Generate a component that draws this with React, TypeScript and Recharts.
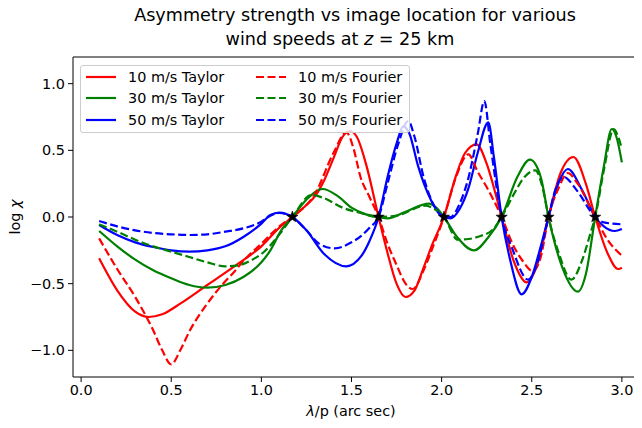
import React from "react";
import { ComposedChart, Line, Scatter, XAxis, YAxis, ReferenceLine } from "recharts";

// [lambda/p, log chi]
const taylor10: [number, number][] = [
  [0.1, -0.31], [0.2, -0.55], [0.3, -0.71], [0.375, -0.75], [0.45, -0.73], [0.55, -0.65],
  [0.7, -0.51], [0.85, -0.37], [1.0, -0.22], [1.1, -0.08], [1.172, 0], [1.25, 0.09],
  [1.3, 0.16], [1.35, 0.28], [1.4, 0.44], [1.45, 0.6], [1.49, 0.645], [1.53, 0.6],
  [1.58, 0.4], [1.65, 0], [1.7, -0.27], [1.75, -0.5], [1.8, -0.6], [1.85, -0.55],
  [1.9, -0.38], [1.95, -0.2], [2.013, 0], [2.08, 0.31], [2.13, 0.48], [2.194, 0.545],
  [2.25, 0.4], [2.3, 0.17], [2.333, 0], [2.4, -0.33], [2.472, -0.49], [2.53, -0.36],
  [2.593, 0], [2.66, 0.33], [2.731, 0.45], [2.8, 0.25], [2.852, 0], [2.92, -0.27],
  [2.98, -0.39], [3.0, -0.38],
];

const fourier10: [number, number][] = [
  [0.1, -0.16], [0.2, -0.39], [0.3, -0.6], [0.4, -0.85], [0.45, -1.0], [0.5, -1.105],
  [0.55, -1.0], [0.6, -0.86], [0.7, -0.65], [0.775, -0.52], [0.85, -0.41], [0.9, -0.33],
  [1.0, -0.2], [1.1, -0.07], [1.172, 0], [1.3, 0.18], [1.4, 0.48], [1.472, 0.635],
  [1.51, 0.52], [1.55, 0.3], [1.6, 0.15], [1.65, 0], [1.7, -0.2], [1.75, -0.36],
  [1.8, -0.5], [1.84, -0.54], [1.9, -0.4], [1.95, -0.23], [2.013, 0], [2.08, 0.3],
  [2.148, 0.47], [2.2, 0.34], [2.26, 0.2], [2.333, 0], [2.4, -0.22], [2.45, -0.33],
  [2.505, -0.405], [2.55, -0.3], [2.593, 0], [2.65, 0.22], [2.7, 0.33], [2.75, 0.26],
  [2.852, 0], [2.92, -0.17], [3.0, -0.29],
];

const taylor30: [number, number][] = [
  [0.1, -0.105], [0.2, -0.22], [0.3, -0.32], [0.4, -0.4], [0.5, -0.46], [0.6, -0.51],
  [0.7, -0.53], [0.8, -0.51], [0.9, -0.45], [1.0, -0.34], [1.05, -0.25], [1.11, -0.1],
  [1.172, 0], [1.25, 0.13], [1.34, 0.21], [1.42, 0.16], [1.5, 0.07], [1.58, 0.02],
  [1.65, 0], [1.7, -0.01], [1.8, 0.04], [1.93, 0.1], [1.97, 0.07], [2.013, 0],
  [2.08, -0.14], [2.18, -0.25], [2.26, -0.15], [2.333, 0], [2.42, 0.3], [2.49, 0.43],
  [2.55, 0.3], [2.593, 0], [2.67, -0.38], [2.756, -0.56], [2.8, -0.43], [2.852, 0],
  [2.9, 0.38], [2.944, 0.66], [2.97, 0.6], [3.0, 0.41],
];

const fourier30: [number, number][] = [
  [0.1, -0.055], [0.2, -0.11], [0.3, -0.17], [0.4, -0.22], [0.5, -0.26], [0.6, -0.3],
  [0.7, -0.34], [0.8, -0.37], [0.88, -0.36], [0.95, -0.32], [1.02, -0.255], [1.1, -0.13],
  [1.172, 0], [1.278, 0.165], [1.35, 0.14], [1.45, 0.07], [1.55, 0.03], [1.65, 0],
  [1.75, 0.01], [1.91, 0.085], [1.96, 0.06], [2.013, 0], [2.09, -0.17], [2.15, -0.165],
  [2.22, -0.14], [2.28, -0.1], [2.333, 0], [2.4, 0.17], [2.46, 0.3], [2.52, 0.35],
  [2.56, 0.22], [2.593, 0], [2.65, -0.27], [2.72, -0.47], [2.778, -0.33], [2.824, -0.13],
  [2.852, 0], [2.9, 0.35], [2.955, 0.66], [2.98, 0.6], [3.0, 0.51],
];

const taylor50: [number, number][] = [
  [0.1, -0.06], [0.2, -0.135], [0.3, -0.19], [0.4, -0.225], [0.5, -0.25], [0.6, -0.26],
  [0.7, -0.25], [0.8, -0.22], [0.9, -0.15], [1.0, -0.05], [1.05, 0.015], [1.1, 0.033],
  [1.172, 0], [1.25, -0.1], [1.35, -0.28], [1.47, -0.37], [1.556, -0.29], [1.6, -0.18],
  [1.65, 0], [1.7, 0.3], [1.75, 0.55], [1.787, 0.68], [1.82, 0.63], [1.87, 0.38],
  [1.94, 0.13], [1.98, 0.04], [2.013, 0], [2.05, -0.01], [2.1, 0.06], [2.15, 0.22],
  [2.2, 0.48], [2.259, 0.71], [2.29, 0.45], [2.333, 0], [2.38, -0.32], [2.444, -0.58],
  [2.5, -0.45], [2.55, -0.22], [2.593, 0], [2.65, 0.26], [2.7, 0.36], [2.78, 0.2],
  [2.852, 0], [2.9, -0.07], [2.96, -0.105], [3.0, -0.09],
];

const fourier50: [number, number][] = [
  [0.1, -0.03], [0.2, -0.07], [0.3, -0.1], [0.4, -0.12], [0.5, -0.13], [0.6, -0.135],
  [0.7, -0.13], [0.8, -0.11], [0.9, -0.085], [1.0, -0.035], [1.05, 0.01], [1.1, 0.03],
  [1.172, 0], [1.25, -0.1], [1.32, -0.2], [1.407, -0.235], [1.5, -0.19], [1.556, -0.14],
  [1.6, -0.08], [1.65, 0], [1.7, 0.25], [1.76, 0.55], [1.815, 0.72], [1.85, 0.6],
  [1.9, 0.3], [1.96, 0.08], [2.013, 0], [2.05, 0.0], [2.1, 0.1], [2.15, 0.3],
  [2.2, 0.62], [2.237, 0.87], [2.27, 0.55], [2.333, 0], [2.39, -0.23], [2.48, -0.47],
  [2.53, -0.35], [2.593, 0], [2.63, 0.2], [2.676, 0.3], [2.75, 0.2], [2.852, 0],
  [2.9, -0.04], [3.0, -0.055],
];

const starX = [1.172, 1.65, 2.013, 2.333, 2.593, 2.852];

const xTicks = [0, 0.5, 1.0, 1.5, 2.0, 2.5, 3.0];
const yTicks = [-1.0, -0.5, 0, 0.5, 1.0];

const toPts = (arr: [number, number][]) => arr.map(([x, y]) => ({ x, y }));
const starPts = starX.map((x) => ({ x, y: 0 }));

const FONT = "'DejaVu Sans', sans-serif";
const RED = "#ff0000";
const GREEN = "#008000";
const BLUE = "#0000ff";
const DASH = "8 3.5";

const fmt = (v: number) => (v < 0 ? "\u2212" : "") + Math.abs(v).toFixed(1);

const StarShape = (props: any) => {
  const { cx, cy } = props;
  const pts: string[] = [];
  for (let i = 0; i < 10; i++) {
    const r = i % 2 === 0 ? 6 : 2.5;
    const a = -Math.PI / 2 + (i * Math.PI) / 5;
    pts.push(`${cx + r * Math.cos(a)},${cy + r * Math.sin(a)}`);
  }
  return <polygon points={pts.join(" ")} fill="#000" stroke="#000" strokeWidth={0.5} />;
};

const legendRows = [
  { label: "10 m/s Taylor", color: RED, dash: undefined },
  { label: "30 m/s Taylor", color: GREEN, dash: undefined },
  { label: "50 m/s Taylor", color: BLUE, dash: undefined },
  { label: "10 m/s Fourier", color: RED, dash: DASH },
  { label: "30 m/s Fourier", color: GREEN, dash: DASH },
  { label: "50 m/s Fourier", color: BLUE, dash: DASH },
];

export default function App() {
  const tickStyle = { fontSize: 14.4, fill: "#000", fontFamily: FONT };
  return (
    <div style={{ position: "relative", width: 642, height: 428, overflow: "hidden", margin: -8, background: "#fff", fontFamily: FONT }}>
      <ComposedChart width={660} height={428} margin={{ top: 57, right: 12, bottom: 0, left: 0 }}>
        <XAxis
          type="number"
          dataKey="x"
          domain={[-0.045, 3.145]}
          ticks={xTicks}
          tickFormatter={fmt}
          tick={tickStyle}
          tickSize={5}
          tickMargin={3}
          height={51}
          stroke="#000"
          allowDataOverflow
        />
        <YAxis
          type="number"
          dataKey="y"
          domain={[-1.2, 1.2]}
          ticks={yTicks}
          tickFormatter={fmt}
          tick={tickStyle}
          tickSize={5}
          tickMargin={3}
          width={73}
          stroke="#000"
          allowDataOverflow
        />
        <ReferenceLine y={1.2} stroke="#000" strokeWidth={1} />
        <Line data={toPts(taylor10)} dataKey="y" type="monotone" stroke={RED} strokeWidth={2.2} dot={false} isAnimationActive={false} />
        <Line data={toPts(taylor30)} dataKey="y" type="monotone" stroke={GREEN} strokeWidth={2.2} dot={false} isAnimationActive={false} />
        <Line data={toPts(taylor50)} dataKey="y" type="monotone" stroke={BLUE} strokeWidth={2.2} dot={false} isAnimationActive={false} />
        <Line data={toPts(fourier10)} dataKey="y" type="monotone" stroke={RED} strokeWidth={2.2} strokeDasharray={DASH} dot={false} isAnimationActive={false} />
        <Line data={toPts(fourier30)} dataKey="y" type="monotone" stroke={GREEN} strokeWidth={2.2} strokeDasharray={DASH} dot={false} isAnimationActive={false} />
        <Line data={toPts(fourier50)} dataKey="y" type="monotone" stroke={BLUE} strokeWidth={2.2} strokeDasharray={DASH} dot={false} isAnimationActive={false} />
        <Scatter data={starPts} dataKey="y" shape={<StarShape />} isAnimationActive={false} />
      </ComposedChart>

      <div style={{ position: "absolute", left: 0, width: 710, top: 3, textAlign: "center", fontSize: 17.6, lineHeight: "24px", color: "#000", whiteSpace: "nowrap" }}>
        Asymmetry strength vs image location for various
      </div>
      <div style={{ position: "absolute", left: 0, width: 680, top: 27, textAlign: "center", fontSize: 17.6, lineHeight: "24px", color: "#000", whiteSpace: "nowrap" }}>
        wind speeds at <i>z</i> = 25 km
      </div>

      <div style={{ position: "absolute", left: 0, width: 702, top: 403, textAlign: "center", fontSize: 14.4, color: "#000" }}>
        <i>λ</i>/p (arc sec)
      </div>

      <div style={{ position: "absolute", left: 15, top: 217, width: 0, height: 0 }}>
        <div style={{ position: "absolute", transform: "translate(-50%, -50%) rotate(-90deg)", whiteSpace: "nowrap", fontSize: 14.4, color: "#000" }}>
          log <i>χ</i>
        </div>
      </div>

      <div style={{ position: "absolute", left: 80, top: 65, width: 330, height: 68, border: "1px solid #ccc", borderRadius: 3, background: "rgba(255,255,255,0.8)", boxSizing: "border-box", fontSize: 14.4 }}>
        {legendRows.map((r, i) => {
          const col = Math.floor(i / 3);
          const row = i % 3;
          const left = col === 0 ? 4 : 174;
          const top = 10.5 + row * 21.7;
          return (
            <div key={r.label} style={{ position: "absolute", left, top: top - 10, height: 20, display: "flex", alignItems: "center", whiteSpace: "nowrap" }}>
              <svg width={32} height={20} style={{ display: "block" }}>
                <line x1={1} y1={10} x2={31} y2={10} stroke={r.color} strokeWidth={2.2} strokeDasharray={r.dash} />
              </svg>
              <span style={{ marginLeft: 11 }}>{r.label}</span>
            </div>
          );
        })}
      </div>
    </div>
  );
}
